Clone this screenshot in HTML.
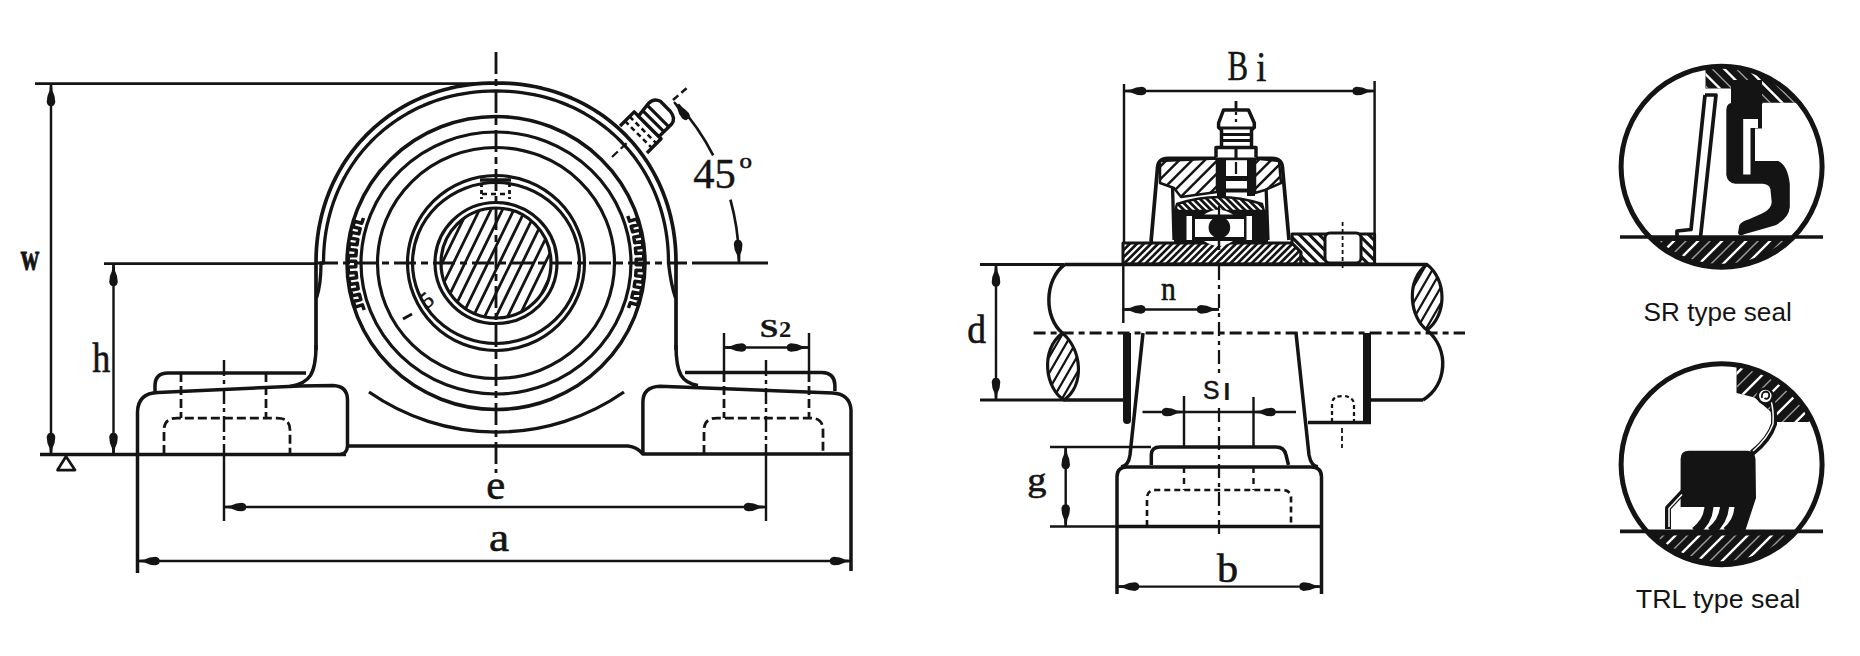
<!DOCTYPE html>
<html><head><meta charset="utf-8"><style>
html,body{margin:0;padding:0;background:#fff;overflow:hidden;width:1860px;height:656px;}
svg{display:block;}
</style></head><body>
<svg width="1860" height="656" viewBox="0 0 1860 656">
<rect width="1860" height="656" fill="#fff"/>
<line x1="35" y1="83.5" x2="496" y2="83.5" stroke="#141414" stroke-width="2.75" stroke-linecap="butt"/>
<line x1="51" y1="84" x2="51" y2="455" stroke="#141414" stroke-width="2.45" stroke-linecap="butt"/>
<path d="M0,-1 L7,-1.6 Q12,-4.3 18,-4.3 Q22,-3.44 22,-1.2 L22,1.2 Q22,3.44 18,4.3 Q12,4.3 7,1.6 L0,1 Z" fill="#141414" transform="translate(51,84) rotate(90)"/>
<path d="M0,-1 L7,-1.6 Q12,-4.3 18,-4.3 Q22,-3.44 22,-1.2 L22,1.2 Q22,3.44 18,4.3 Q12,4.3 7,1.6 L0,1 Z" fill="#141414" transform="translate(51,455) rotate(-90)"/>
<text x="0" y="0" font-family="Liberation Serif" font-size="37.23" font-weight="bold" fill="#141414" stroke="#141414" stroke-width="0.9" transform="translate(20.70,270.13) scale(0.687,1)">w</text>
<line x1="104" y1="263.5" x2="316" y2="263.5" stroke="#141414" stroke-width="2.75" stroke-linecap="butt"/>
<line x1="113.5" y1="264" x2="113.5" y2="455" stroke="#141414" stroke-width="2.45" stroke-linecap="butt"/>
<path d="M0,-1 L7,-1.6 Q12,-4.3 18,-4.3 Q22,-3.44 22,-1.2 L22,1.2 Q22,3.44 18,4.3 Q12,4.3 7,1.6 L0,1 Z" fill="#141414" transform="translate(113.5,264) rotate(90)"/>
<path d="M0,-1 L7,-1.6 Q12,-4.3 18,-4.3 Q22,-3.44 22,-1.2 L22,1.2 Q22,3.44 18,4.3 Q12,4.3 7,1.6 L0,1 Z" fill="#141414" transform="translate(113.5,455) rotate(-90)"/>
<text x="0" y="0" font-family="Liberation Serif" font-size="42.45" font-weight="normal" fill="#141414" stroke="#141414" stroke-width="0.6" transform="translate(92.34,371.50) scale(0.848,1)">h</text>
<line x1="40" y1="454.5" x2="346" y2="454.5" stroke="#141414" stroke-width="3.5" stroke-linecap="butt"/>
<path d="M57.5,470 L75,470 L66,456.5 Z" fill="none" stroke="#141414" stroke-width="2.75" stroke-linejoin="round" />
<line x1="316" y1="263" x2="687" y2="263" stroke="#141414" stroke-width="3.1" stroke-linecap="butt" stroke-dasharray="22 5 7 5"/>
<line x1="692" y1="263" x2="768" y2="263" stroke="#141414" stroke-width="2.85" stroke-linecap="butt"/>
<line x1="496" y1="52" x2="496" y2="473" stroke="#141414" stroke-width="2.85" stroke-linecap="butt" stroke-dasharray="22 5 7 5"/>
<path d="M316,350 L316,263 L316.00,263.00 L316.11,255.96 L316.42,249.26 L316.95,242.69 L317.69,236.22 L318.64,229.84 L319.80,223.53 L321.17,217.31 L322.74,211.18 L324.52,205.12 L326.50,199.16 L328.68,193.29 L331.06,187.53 L333.63,181.86 L336.40,176.31 L339.36,170.87 L342.50,165.54 L345.82,160.35 L349.33,155.28 L353.01,150.35 L356.86,145.56 L360.88,140.91 L365.07,136.41 L369.41,132.07 L373.91,127.88 L378.56,123.86 L383.35,120.01 L388.28,116.33 L393.35,112.82 L398.54,109.50 L403.87,106.36 L409.31,103.40 L414.86,100.63 L420.53,98.06 L426.29,95.68 L432.16,93.50 L438.12,91.52 L444.18,89.74 L450.31,88.17 L456.53,86.80 L462.84,85.64 L469.22,84.69 L475.69,83.95 L482.26,83.42 L488.96,83.11 L496.00,83.00 L503.04,83.11 L509.74,83.42 L516.31,83.95 L522.78,84.69 L529.16,85.64 L535.47,86.80 L541.69,88.17 L547.82,89.74 L553.88,91.52 L559.84,93.50 L565.71,95.68 L571.47,98.06 L577.14,100.63 L582.69,103.40 L588.13,106.36 L593.46,109.50 L598.65,112.82 L603.72,116.33 L608.65,120.01 L613.44,123.86 L618.09,127.88 L622.59,132.07 L626.93,136.41 L631.12,140.91 L635.14,145.56 L638.99,150.35 L642.67,155.28 L646.18,160.35 L649.50,165.54 L652.64,170.87 L655.60,176.31 L658.37,181.86 L660.94,187.53 L663.32,193.29 L665.50,199.16 L667.48,205.12 L669.26,211.18 L670.83,217.31 L672.20,223.53 L673.36,229.84 L674.31,236.22 L675.05,242.69 L675.58,249.26 L675.89,255.96 L676.00,263.00 L676,350" fill="none" stroke="#141414" stroke-width="3.7" stroke-linejoin="round" />
<path d="M316.5,298 Q321,285 321,263 L323.50,263.00 L323.60,256.28 L323.91,249.87 L324.41,243.59 L325.12,237.41 L326.03,231.31 L327.14,225.29 L328.45,219.34 L329.96,213.48 L331.66,207.70 L333.56,202.00 L335.65,196.39 L337.93,190.88 L340.40,185.47 L343.05,180.16 L345.88,174.96 L348.89,169.88 L352.08,164.91 L355.44,160.07 L358.97,155.35 L362.66,150.78 L366.51,146.34 L370.52,142.04 L374.69,137.89 L379.00,133.89 L383.45,130.05 L388.04,126.37 L392.77,122.85 L397.62,119.50 L402.60,116.32 L407.70,113.32 L412.92,110.49 L418.24,107.85 L423.67,105.39 L429.20,103.12 L434.82,101.03 L440.54,99.14 L446.33,97.44 L452.22,95.94 L458.18,94.63 L464.22,93.53 L470.34,92.62 L476.54,91.91 L482.83,91.40 L489.26,91.10 L496.00,91.00 L502.74,91.10 L509.17,91.40 L515.46,91.91 L521.66,92.62 L527.78,93.53 L533.82,94.63 L539.78,95.94 L545.67,97.44 L551.46,99.14 L557.18,101.03 L562.80,103.12 L568.33,105.39 L573.76,107.85 L579.08,110.49 L584.30,113.32 L589.40,116.32 L594.38,119.50 L599.23,122.85 L603.96,126.37 L608.55,130.05 L613.00,133.89 L617.31,137.89 L621.48,142.04 L625.49,146.34 L629.34,150.78 L633.03,155.35 L636.56,160.07 L639.92,164.91 L643.11,169.88 L646.12,174.96 L648.95,180.16 L651.60,185.47 L654.07,190.88 L656.35,196.39 L658.44,202.00 L660.34,207.70 L662.04,213.48 L663.55,219.34 L664.86,225.29 L665.97,231.31 L666.88,237.41 L667.59,243.59 L668.09,249.87 L668.40,256.28 L668.50,263.00 Q671,285 675.5,298" fill="none" stroke="#141414" stroke-width="3.3" stroke-linejoin="round" />
<ellipse cx="496" cy="263" rx="149" ry="146.5" fill="none" stroke="#141414" stroke-width="3.6"/>
<ellipse cx="496" cy="263" rx="135" ry="131" fill="none" stroke="#141414" stroke-width="3.2"/>
<ellipse cx="496" cy="263" rx="118.5" ry="115.5" fill="none" stroke="#141414" stroke-width="3.2"/>
<ellipse cx="496" cy="263" rx="88.5" ry="87.5" fill="none" stroke="#141414" stroke-width="3.2"/>
<ellipse cx="496" cy="263" rx="83.5" ry="80.5" fill="none" stroke="#141414" stroke-width="3.2"/>
<ellipse cx="496" cy="263" rx="61" ry="60.5" fill="none" stroke="#141414" stroke-width="3.2"/>
<ellipse cx="496" cy="263" rx="55" ry="55" fill="none" stroke="#141414" stroke-width="3.2"/>
<path d="M369,392 A223,223 0 0 0 624,392" fill="none" stroke="#141414" stroke-width="3.3" stroke-linejoin="round" />
<path d="M316,345 C316,374 310,383 290,386.5" fill="none" stroke="#141414" stroke-width="3.5" stroke-linejoin="round" />
<path d="M306,373 L168,373 Q155,373 155,386 L155,392" fill="none" stroke="#141414" stroke-width="3.5" stroke-linejoin="round" />
<path d="M137.5,573 L137.5,412 Q138,393 158,392.5 L300,386 L333,385.5 Q347.5,386 347.5,400 L347.5,446 Q347,454 340,454.5" fill="none" stroke="#141414" stroke-width="3.5" stroke-linejoin="round" />
<path d="M347.5,446 Q350,446 356,446 L628,446 Q637,447 643,454" fill="none" stroke="#141414" stroke-width="3.5" stroke-linejoin="round" />
<path d="M676,345 C676,374 682,383 698,385.5" fill="none" stroke="#141414" stroke-width="3.5" stroke-linejoin="round" />
<path d="M685,372.6 L822,372.6 Q834.5,373 834.9,385 L834.9,391" fill="none" stroke="#141414" stroke-width="3.5" stroke-linejoin="round" />
<path d="M851,571 L851,410 Q850,394 832.6,393 L660,386.3 Q643,387 642.9,402 L642.9,454 L851,454" fill="none" stroke="#141414" stroke-width="3.5" stroke-linejoin="round" />
<path d="M181,373 L181,418 M266,373 L266,418" fill="none" stroke="#141414" stroke-width="2.75" stroke-dasharray="9 4" stroke-linejoin="round" />
<path d="M164,454 L164,430 Q164,418 177,418 L277,418 Q290,418 290,430 L290,454" fill="none" stroke="#141414" stroke-width="2.75" stroke-dasharray="9 4" stroke-linejoin="round" />
<line x1="224" y1="360" x2="224" y2="455" stroke="#141414" stroke-width="2.45" stroke-linecap="butt" stroke-dasharray="16 4 4 4"/>
<line x1="224" y1="455" x2="224" y2="521" stroke="#141414" stroke-width="2.45" stroke-linecap="butt"/>
<path d="M724,373 L724,418 M809,373 L809,418" fill="none" stroke="#141414" stroke-width="2.75" stroke-dasharray="9 4" stroke-linejoin="round" />
<path d="M704,454 L704,430 Q704,418 717,418 L810,418 Q823,418 823,430 L823,454" fill="none" stroke="#141414" stroke-width="2.75" stroke-dasharray="9 4" stroke-linejoin="round" />
<line x1="766" y1="360" x2="766" y2="455" stroke="#141414" stroke-width="2.45" stroke-linecap="butt" stroke-dasharray="16 4 4 4"/>
<line x1="766" y1="455" x2="766" y2="521" stroke="#141414" stroke-width="2.45" stroke-linecap="butt"/>
<line x1="724" y1="333" x2="809" y2="333" stroke="#141414" stroke-width="0.0" stroke-linecap="butt"/>
<line x1="724" y1="333" x2="724" y2="373" stroke="#141414" stroke-width="2.45" stroke-linecap="butt"/>
<line x1="809" y1="333" x2="809" y2="373" stroke="#141414" stroke-width="2.45" stroke-linecap="butt"/>
<line x1="724" y1="347.5" x2="809" y2="347.5" stroke="#141414" stroke-width="2.45" stroke-linecap="butt"/>
<path d="M0,-1 L7,-1.6 Q12,-4.3 18,-4.3 Q22,-3.44 22,-1.2 L22,1.2 Q22,3.44 18,4.3 Q12,4.3 7,1.6 L0,1 Z" fill="#141414" transform="translate(724,347.5) rotate(0)"/>
<path d="M0,-1 L7,-1.6 Q12,-4.3 18,-4.3 Q22,-3.44 22,-1.2 L22,1.2 Q22,3.44 18,4.3 Q12,4.3 7,1.6 L0,1 Z" fill="#141414" transform="translate(809,347.5) rotate(180)"/>
<text x="0" y="0" font-family="Liberation Serif" font-size="25.82" font-weight="bold" fill="#141414" stroke="#141414" stroke-width="0.3" transform="translate(759.87,336.54) scale(1.288,1)">S</text>
<text x="0" y="0" font-family="Liberation Serif" font-size="22.42" font-weight="bold" fill="#141414" transform="translate(779.02,336.80) scale(1.094,1)">2</text>
<line x1="224" y1="507" x2="766" y2="507" stroke="#141414" stroke-width="2.45" stroke-linecap="butt"/>
<path d="M0,-1 L7,-1.6 Q12,-4.3 18,-4.3 Q22,-3.44 22,-1.2 L22,1.2 Q22,3.44 18,4.3 Q12,4.3 7,1.6 L0,1 Z" fill="#141414" transform="translate(224,507) rotate(0)"/>
<path d="M0,-1 L7,-1.6 Q12,-4.3 18,-4.3 Q22,-3.44 22,-1.2 L22,1.2 Q22,3.44 18,4.3 Q12,4.3 7,1.6 L0,1 Z" fill="#141414" transform="translate(766,507) rotate(180)"/>
<text x="0" y="0" font-family="Liberation Serif" font-size="41.46" font-weight="normal" fill="#141414" stroke="#141414" stroke-width="0.6" transform="translate(486.19,499.09) scale(1.030,1)">e</text>
<line x1="137.5" y1="561" x2="852" y2="561" stroke="#141414" stroke-width="2.45" stroke-linecap="butt"/>
<path d="M0,-1 L7,-1.6 Q12,-4.3 18,-4.3 Q22,-3.44 22,-1.2 L22,1.2 Q22,3.44 18,4.3 Q12,4.3 7,1.6 L0,1 Z" fill="#141414" transform="translate(137.5,561) rotate(0)"/>
<path d="M0,-1 L7,-1.6 Q12,-4.3 18,-4.3 Q22,-3.44 22,-1.2 L22,1.2 Q22,3.44 18,4.3 Q12,4.3 7,1.6 L0,1 Z" fill="#141414" transform="translate(852,561) rotate(180)"/>
<text x="0" y="0" font-family="Liberation Serif" font-size="40.00" font-weight="normal" fill="#141414" stroke="#141414" stroke-width="0.6" transform="translate(489.01,550.60) scale(1.133,1)">a</text>
<line x1="612" y1="157" x2="630" y2="140" stroke="#141414" stroke-width="2.25" stroke-linecap="butt" stroke-dasharray="8 4"/>
<line x1="673" y1="100" x2="688" y2="87" stroke="#141414" stroke-width="2.45" stroke-linecap="butt" stroke-dasharray="7 4"/>
<path d="M678.1,104.4 A237,237 0 0 1 713.2,155.4" fill="none" stroke="#141414" stroke-width="2.65" stroke-linejoin="round" />
<path d="M730.4,199.7 A237,237 0 0 1 739.0,263.0" fill="none" stroke="#141414" stroke-width="2.65" stroke-linejoin="round" />
<path d="M0,-1 L7,-1.6 Q12,-4.3 18,-4.3 Q22,-3.44 22,-1.2 L22,1.2 Q22,3.44 18,4.3 Q12,4.3 7,1.6 L0,1 Z" fill="#141414" transform="translate(674,102) rotate(50)"/>
<path d="M0,-1 L7,-1.6 Q12,-4.3 18,-4.3 Q22,-3.44 22,-1.2 L22,1.2 Q22,3.44 18,4.3 Q12,4.3 7,1.6 L0,1 Z" fill="#141414" transform="translate(739,262) rotate(-93)"/>
<text x="0" y="0" font-family="Liberation Serif" font-size="41.34" font-weight="normal" fill="#141414" stroke="#141414" stroke-width="0.4" transform="translate(693.15,188.09) scale(1.029,1)">45</text>
<text x="0" y="0" font-family="Liberation Serif" font-size="20.83" font-weight="normal" fill="#141414" stroke="#141414" stroke-width="0.5" transform="translate(739.50,168.29) scale(1.200,1)">o</text>
<g transform="translate(633.5,139.5) rotate(-45)"><path d="M0,-19 L20,-19 L20,19 L0,19" fill="#fff" stroke="#141414" stroke-width="3.4" stroke-linejoin="round"/><path d="M20,-13 L36,-15 Q44,-15 46,-8 L46,6 Q45,15 38,16 L20,16 Z" fill="#fff" stroke="#141414" stroke-width="3.4" stroke-linejoin="round"/><path d="M27,-14 L27,16 M34,-15 L34,16" stroke="#141414" stroke-width="3.2"/><path d="M7,-19 L7,19 M13.5,-19 L13.5,19" stroke="#141414" stroke-width="2.6" stroke-dasharray="5 3.5"/></g>
<clipPath id="shaft"><circle cx="496" cy="263" r="54"/></clipPath>
<path d="M380.3,295.6 L450.4,151.8 M389.6,300.1 L459.7,156.3 M398.8,304.6 L469.0,160.8 M408.1,309.1 L478.2,165.3 M417.3,313.6 L487.5,169.8 M426.6,318.2 L496.7,174.4 M435.9,322.7 L506.0,178.9 M445.1,327.2 L515.3,183.4 M454.4,331.7 L524.5,187.9 M463.6,336.2 L533.8,192.4 M472.9,340.7 L543.0,196.9 M482.1,345.2 L552.3,201.4 M491.4,349.8 L561.5,206.0 M500.7,354.3 L570.8,210.5 M509.9,358.8 L580.1,215.0 M519.2,363.3 L589.3,219.5 M528.4,367.8 L598.6,224.0 M537.7,372.3 L607.8,228.5 M546.9,376.9 L617.1,233.0" stroke="#141414" stroke-width="2.8" clip-path="url(#shaft)"/>
<path d="M364.2,310.0 L362.4,304.8 L355.1,307.1 L353.4,301.5 L360.8,299.5 L359.4,294.2 L351.9,295.9 L350.7,290.2 L358.2,288.8 L357.3,283.3 L349.7,284.4 L349.0,278.7 L356.6,277.8 L356.1,272.4 L348.4,272.9 L348.2,267.0 L355.8,266.8 L355.8,261.3 L348.1,261.2 L348.3,255.4 L355.9,255.8 L356.3,250.3 L348.7,249.6 L349.4,243.8 L357.0,244.8 L357.8,239.4 L350.3,238.1 L351.4,232.4 L358.9,233.9 L360.2,228.6 L352.8,226.7 L354.4,221.1 L361.7,223.3 L363.5,218.0" fill="none" stroke="#141414" stroke-width="3.5" stroke-linejoin="round" />
<path d="M627.8,216.0 L629.6,221.2 L636.9,218.9 L638.6,224.5 L631.2,226.5 L632.6,231.8 L640.1,230.1 L641.3,235.8 L633.8,237.2 L634.7,242.7 L642.3,241.6 L643.0,247.3 L635.4,248.2 L635.9,253.6 L643.6,253.1 L643.8,259.0 L636.2,259.2 L636.2,264.7 L643.9,264.8 L643.7,270.6 L636.1,270.2 L635.7,275.7 L643.3,276.4 L642.6,282.2 L635.0,281.2 L634.2,286.6 L641.7,287.9 L640.6,293.6 L633.1,292.1 L631.8,297.4 L639.2,299.3 L637.6,304.9 L630.3,302.7 L628.5,308.0" fill="none" stroke="#141414" stroke-width="3.5" stroke-linejoin="round" />
<line x1="480" y1="180" x2="511" y2="180" stroke="#141414" stroke-width="3.5" stroke-linecap="butt"/>
<path d="M481.5,183 L481.5,199 M509.5,183 L509.5,199" fill="none" stroke="#141414" stroke-width="2.85" stroke-dasharray="4 3" stroke-linejoin="round" />
<line x1="482" y1="194" x2="509" y2="194" stroke="#141414" stroke-width="2.65" stroke-linecap="butt" stroke-dasharray="5 4"/>
<line x1="403" y1="319" x2="412" y2="314" stroke="#141414" stroke-width="2.85" stroke-linecap="butt"/>
<text x="0" y="0" font-family="Liberation Serif" font-size="22" fill="#141414" stroke="#141414" stroke-width="0.6" transform="translate(427,309) rotate(-40)">5</text>
<line x1="1124" y1="84" x2="1124" y2="243" stroke="#141414" stroke-width="2.45" stroke-linecap="butt"/>
<line x1="1374.6" y1="81" x2="1374.6" y2="234" stroke="#141414" stroke-width="2.45" stroke-linecap="butt"/>
<line x1="1124" y1="91" x2="1374.6" y2="91" stroke="#141414" stroke-width="2.45" stroke-linecap="butt"/>
<path d="M0,-1 L7,-1.6 Q12,-4.3 18,-4.3 Q22,-3.44 22,-1.2 L22,1.2 Q22,3.44 18,4.3 Q12,4.3 7,1.6 L0,1 Z" fill="#141414" transform="translate(1124,91) rotate(0)"/>
<path d="M0,-1 L7,-1.6 Q12,-4.3 18,-4.3 Q22,-3.44 22,-1.2 L22,1.2 Q22,3.44 18,4.3 Q12,4.3 7,1.6 L0,1 Z" fill="#141414" transform="translate(1374.6,91) rotate(180)"/>
<text x="0" y="0" font-family="Liberation Serif" font-size="42.58" font-weight="normal" fill="#141414" stroke="#141414" stroke-width="0.5" transform="translate(1227.47,80.29) scale(0.725,1)">B</text>
<text x="0" y="0" font-family="Liberation Serif" font-size="41.67" font-weight="normal" fill="#141414" stroke="#141414" stroke-width="0.5" transform="translate(1256.27,80.50) scale(0.880,1)">i</text>
<path d="M1151,242 L1157.5,168 Q1158,158.5 1168,158.3 L1272,158.3 Q1282,158.5 1282.5,168 L1289,240" fill="none" stroke="#141414" stroke-width="3.7" stroke-linejoin="round" />
<line x1="1172.5" y1="185" x2="1174" y2="240" stroke="#141414" stroke-width="3.3" stroke-linecap="butt"/>
<line x1="1266" y1="185" x2="1268" y2="240" stroke="#141414" stroke-width="3.3" stroke-linecap="butt"/>
<clipPath id="c1"><path d="M1160,161 L1217,158.5 L1217,192 L1181,197 L1174,188 L1160,183 Z"/></clipPath>
<path d="M1160,161 L1217,158.5 L1217,192 L1181,197 L1174,188 L1160,183 Z" fill="#fff"/>
<path d="M1126.3,175.0 L1185.0,116.3 M1132.7,181.4 L1191.4,122.7 M1139.0,187.8 L1197.8,129.0 M1145.4,194.1 L1204.1,135.4 M1151.8,200.5 L1210.5,141.8 M1158.1,206.9 L1216.9,148.1 M1164.5,213.2 L1223.2,154.5 M1170.9,219.6 L1229.6,160.9 M1177.2,226.0 L1236.0,167.2 M1183.6,232.3 L1242.3,173.6 M1190.0,238.7 L1248.7,180.0" stroke="#141414" stroke-width="2.45" clip-path="url(#c1)"/>
<path d="M1160,161 L1217,158.5 L1217,192 L1181,197 L1174,188 L1160,183 Z" fill="none" stroke="#141414" stroke-width="2.5" stroke-linejoin="round"/>
<clipPath id="c2"><path d="M1255,158.5 L1279,161 L1281,183 L1265,190 L1255,193 Z"/></clipPath>
<path d="M1255,158.5 L1279,161 L1281,183 L1265,190 L1255,193 Z" fill="#fff"/>
<path d="M1223.0,170.1 L1263.1,130.0 M1229.4,176.4 L1269.4,136.4 M1235.8,182.8 L1275.8,142.8 M1242.1,189.2 L1282.2,149.1 M1248.5,195.5 L1288.5,155.5 M1254.8,201.9 L1294.9,161.8 M1261.2,208.2 L1301.2,168.2 M1267.6,214.6 L1307.6,174.6 M1273.9,221.0 L1314.0,180.9" stroke="#141414" stroke-width="2.45" clip-path="url(#c2)"/>
<path d="M1255,158.5 L1279,161 L1281,183 L1265,190 L1255,193 Z" fill="none" stroke="#141414" stroke-width="2.5" stroke-linejoin="round"/>
<rect x="1217" y="156" width="9" height="40" fill="#141414"/>
<rect x="1247" y="156" width="8" height="40" fill="#141414"/>
<rect x="1226" y="176" width="21" height="5" fill="#141414"/>
<rect x="1226" y="188.5" width="21" height="4" fill="#141414"/>
<line x1="1236" y1="162" x2="1236" y2="174" stroke="#141414" stroke-width="2.25" stroke-linecap="butt"/>
<line x1="1236" y1="101" x2="1236" y2="110" stroke="#141414" stroke-width="2.85" stroke-linecap="butt"/>
<path d="M1221.5,146 L1221.5,130 L1218.6,127.5 L1218.6,123 L1223.5,110 L1248.5,110 L1254.3,123 L1254.3,127.5 L1251.5,130 L1251.5,146" fill="#fff" stroke="#141414" stroke-width="3.5" stroke-linejoin="round" />
<path d="M1219,128 L1254,128 M1221.5,134.5 L1251.5,134.5 M1221.5,140.5 L1251.5,140.5" fill="none" stroke="#141414" stroke-width="3.1" stroke-linejoin="round" />
<path d="M1216,157.5 L1216,147.5 L1256,147.5 L1256,157.5" fill="#fff" stroke="#141414" stroke-width="3.5" stroke-linejoin="round" />
<line x1="1236" y1="112" x2="1236" y2="125" stroke="#141414" stroke-width="2.25" stroke-linecap="butt" stroke-dasharray="3 4"/>
<line x1="1236" y1="147.5" x2="1236" y2="158" stroke="#141414" stroke-width="3.1" stroke-linecap="butt"/>
<clipPath id="c3"><path d="M1175,211 L1177,204 Q1219,190 1262,204 L1264,211 Z"/></clipPath>
<path d="M1175,211 L1177,204 Q1219,190 1262,204 L1264,211 Z" fill="#141414"/>
<path d="M1220.8,128.1 L1291.9,199.2 M1217.4,131.5 L1288.5,202.6 M1214.0,134.9 L1285.1,206.0 M1210.6,138.3 L1281.7,209.4 M1207.2,141.7 L1278.3,212.8 M1203.8,145.1 L1274.9,216.2 M1200.4,148.5 L1271.5,219.6 M1197.0,151.9 L1268.1,223.0 M1193.6,155.3 L1264.7,226.4 M1190.2,158.7 L1261.3,229.8 M1186.8,162.1 L1257.9,233.2 M1183.5,165.5 L1254.5,236.5 M1180.1,168.8 L1251.2,239.9 M1176.7,172.2 L1247.8,243.3 M1173.3,175.6 L1244.4,246.7 M1169.9,179.0 L1241.0,250.1 M1166.5,182.4 L1237.6,253.5 M1163.1,185.8 L1234.2,256.9 M1159.7,189.2 L1230.8,260.3 M1156.3,192.6 L1227.4,263.7 M1152.9,196.0 L1224.0,267.1 M1149.5,199.4 L1220.6,270.5 M1146.1,202.8 L1217.2,273.9" stroke="#fff" stroke-width="2.0" clip-path="url(#c3)"/>
<path d="M1175,211 L1177,204 Q1219,190 1262,204 L1264,211 Z" fill="none" stroke="#141414" stroke-width="2.5" stroke-linejoin="round"/>
<path d="M1174,210 L1268,210 L1268,243 L1174,243 Z" fill="#141414"/>
<rect x="1195" y="219" width="49" height="18" fill="#fff"/>
<path d="M1204,214.5 Q1218.5,205 1233,214.5 Z" fill="#fff"/>
<circle cx="1219.4" cy="227.4" r="10.8" fill="#141414"/>
<rect x="1186.5" y="216" width="5.5" height="24" fill="#fff"/>
<rect x="1246.5" y="216" width="5.5" height="24" fill="#fff"/>
<line x1="1219" y1="206" x2="1219" y2="248" stroke="#141414" stroke-width="2.25" stroke-linecap="butt"/>
<clipPath id="c4"><path d="M1123,243 L1292,243 L1301,252 L1301,264 L1123,264 Z"/></clipPath>
<path d="M1123,243 L1292,243 L1301,252 L1301,264 L1123,264 Z" fill="#141414"/>
<path d="M1075.4,252.2 L1215.2,112.4 M1078.9,255.7 L1218.7,115.9 M1082.4,259.3 L1222.3,119.4 M1086.0,262.8 L1225.8,123.0 M1089.5,266.3 L1229.3,126.5 M1093.1,269.9 L1232.9,130.1 M1096.6,273.4 L1236.4,133.6 M1100.1,277.0 L1240.0,137.1 M1103.7,280.5 L1243.5,140.7 M1107.2,284.0 L1247.0,144.2 M1110.7,287.6 L1250.6,147.7 M1114.3,291.1 L1254.1,151.3 M1117.8,294.6 L1257.6,154.8 M1121.3,298.2 L1261.2,158.3 M1124.9,301.7 L1264.7,161.9 M1128.4,305.2 L1268.2,165.4 M1131.9,308.8 L1271.8,168.9 M1135.5,312.3 L1275.3,172.5 M1139.0,315.8 L1278.8,176.0 M1142.5,319.4 L1282.4,179.5 M1146.1,322.9 L1285.9,183.1 M1149.6,326.5 L1289.5,186.6 M1153.2,330.0 L1293.0,190.2 M1156.7,333.5 L1296.5,193.7 M1160.2,337.1 L1300.1,197.2 M1163.8,340.6 L1303.6,200.8 M1167.3,344.1 L1307.1,204.3 M1170.8,347.7 L1310.7,207.8 M1174.4,351.2 L1314.2,211.4 M1177.9,354.7 L1317.7,214.9 M1181.4,358.3 L1321.3,218.4 M1185.0,361.8 L1324.8,222.0 M1188.5,365.3 L1328.3,225.5 M1192.0,368.9 L1331.9,229.0 M1195.6,372.4 L1335.4,232.6 M1199.1,375.9 L1338.9,236.1 M1202.7,379.5 L1342.5,239.7 M1206.2,383.0 L1346.0,243.2 M1209.7,386.6 L1349.6,246.7 M1213.3,390.1 L1353.1,250.3 M1216.8,393.6 L1356.6,253.8" stroke="#fff" stroke-width="2.3" clip-path="url(#c4)"/>
<path d="M1123,243 L1292,243 L1301,252 L1301,264 L1123,264 Z" fill="none" stroke="#141414" stroke-width="3" stroke-linejoin="round"/>
<path d="M1204,241 Q1218.5,251 1233,241 Z" fill="#fff"/>
<line x1="1219" y1="240" x2="1219" y2="250" stroke="#141414" stroke-width="2.45" stroke-linecap="butt"/>
<clipPath id="c5"><path d="M1292,234 L1374.6,234 L1374.6,264 L1301,264 L1301,252 L1292,243 Z"/></clipPath>
<path d="M1292,234 L1374.6,234 L1374.6,264 L1301,264 L1301,252 L1292,243 Z" fill="#fff"/>
<path d="M1336.7,173.0 L1407.5,243.8 M1331.8,178.0 L1402.5,248.7 M1326.8,182.9 L1397.6,253.7 M1321.9,187.9 L1392.6,258.6 M1316.9,192.8 L1387.7,263.6 M1312.0,197.8 L1382.7,268.5 M1307.0,202.7 L1377.8,273.5 M1302.1,207.7 L1372.8,278.4 M1297.1,212.6 L1367.9,283.4 M1292.2,217.6 L1362.9,288.3 M1287.2,222.5 L1358.0,293.3 M1282.3,227.5 L1353.0,298.2 M1277.3,232.4 L1348.1,303.2 M1272.4,237.4 L1343.1,308.1 M1267.4,242.3 L1338.2,313.1 M1262.5,247.3 L1333.2,318.0 M1257.5,252.2 L1328.3,323.0" stroke="#141414" stroke-width="3.1" clip-path="url(#c5)"/>
<path d="M1292,234 L1374.6,234 L1374.6,264 L1301,264 L1301,252 L1292,243 Z" fill="none" stroke="#141414" stroke-width="3" stroke-linejoin="round"/>
<rect x="1325" y="233" width="36" height="30" rx="5" fill="#fff" stroke="#141414" stroke-width="3"/>
<line x1="1342.6" y1="222" x2="1342.6" y2="270" stroke="#141414" stroke-width="1.8" stroke-linecap="butt" stroke-dasharray="4 3"/>
<line x1="980" y1="264.5" x2="1064.6" y2="264.5" stroke="#141414" stroke-width="2.85" stroke-linecap="butt"/>
<line x1="1064.6" y1="264.5" x2="1427" y2="264.5" stroke="#141414" stroke-width="3.7" stroke-linecap="butt"/>
<line x1="980" y1="400" x2="1064" y2="400" stroke="#141414" stroke-width="2.85" stroke-linecap="butt"/>
<line x1="1064" y1="400" x2="1123" y2="400" stroke="#141414" stroke-width="3.5" stroke-linecap="butt"/>
<line x1="1371" y1="400" x2="1423" y2="400" stroke="#141414" stroke-width="3.5" stroke-linecap="butt"/>
<path d="M1064.6,264.5 C1044,280 1044,318 1062.4,333" fill="none" stroke="#141414" stroke-width="3.5" stroke-linejoin="round" />
<clipPath id="c6"><path d="M1062.4,333 C1040,350 1045,388 1064,400 C1085,385 1082,350 1062.4,333 Z"/></clipPath>
<path d="M1062.4,333 C1040,350 1045,388 1064,400 C1085,385 1082,350 1062.4,333 Z" fill="#fff"/>
<path d="M998.7,380.5 L1043.2,303.5 M1005.6,384.5 L1050.1,307.5 M1012.6,388.5 L1057.0,311.5 M1019.5,392.5 L1063.9,315.5 M1026.4,396.5 L1070.9,319.5 M1033.3,400.5 L1077.8,323.5 M1040.3,404.5 L1084.7,327.5 M1047.2,408.5 L1091.7,331.5 M1054.1,412.5 L1098.6,335.5 M1061.1,416.5 L1105.5,339.5 M1068.0,420.5 L1112.4,343.5 M1074.9,424.5 L1119.4,347.5 M1081.8,428.5 L1126.3,351.5" stroke="#141414" stroke-width="2.25" clip-path="url(#c6)"/>
<path d="M1062.4,333 C1040,350 1045,388 1064,400 C1085,385 1082,350 1062.4,333 Z" fill="none" stroke="#141414" stroke-width="3.2" stroke-linejoin="round"/>
<clipPath id="c7"><path d="M1427,264.5 C1405,280 1410,318 1427,330 C1447,315 1447,280 1427,264.5 Z"/></clipPath>
<path d="M1427,264.5 C1405,280 1410,318 1427,330 C1447,315 1447,280 1427,264.5 Z" fill="#fff"/>
<path d="M1363.0,310.1 L1405.8,235.9 M1370.0,314.1 L1412.8,239.9 M1376.9,318.1 L1419.7,243.9 M1383.8,322.1 L1426.6,247.9 M1390.7,326.1 L1433.6,251.9 M1397.7,330.1 L1440.5,255.9 M1404.6,334.1 L1447.4,259.9 M1411.5,338.1 L1454.3,263.9 M1418.4,342.1 L1461.3,267.9 M1425.4,346.1 L1468.2,271.9 M1432.3,350.1 L1475.1,275.9 M1439.2,354.1 L1482.0,279.9 M1446.2,358.1 L1489.0,283.9" stroke="#141414" stroke-width="2.25" clip-path="url(#c7)"/>
<path d="M1427,264.5 C1405,280 1410,318 1427,330 C1447,315 1447,280 1427,264.5 Z" fill="none" stroke="#141414" stroke-width="3.2" stroke-linejoin="round"/>
<path d="M1427,330 C1450,350 1447,385 1423,400" fill="none" stroke="#141414" stroke-width="3.5" stroke-linejoin="round" />
<line x1="1033.6" y1="333" x2="1465" y2="333" stroke="#141414" stroke-width="2.85" stroke-linecap="butt" stroke-dasharray="12 5 6 5"/>
<line x1="1219" y1="266" x2="1219" y2="377" stroke="#141414" stroke-width="2.25" stroke-linecap="butt" stroke-dasharray="14 5 4 5"/>
<line x1="1219" y1="408" x2="1219" y2="538" stroke="#141414" stroke-width="2.25" stroke-linecap="butt" stroke-dasharray="14 5 4 5"/>
<line x1="996" y1="264.5" x2="996" y2="400" stroke="#141414" stroke-width="2.45" stroke-linecap="butt"/>
<path d="M0,-1 L7,-1.6 Q12,-4.3 18,-4.3 Q22,-3.44 22,-1.2 L22,1.2 Q22,3.44 18,4.3 Q12,4.3 7,1.6 L0,1 Z" fill="#141414" transform="translate(996,264.5) rotate(90)"/>
<path d="M0,-1 L7,-1.6 Q12,-4.3 18,-4.3 Q22,-3.44 22,-1.2 L22,1.2 Q22,3.44 18,4.3 Q12,4.3 7,1.6 L0,1 Z" fill="#141414" transform="translate(996,400) rotate(-90)"/>
<text x="0" y="0" font-family="Liberation Serif" font-size="39.29" font-weight="normal" fill="#141414" stroke="#141414" stroke-width="0.6" transform="translate(967.18,343.11) scale(0.957,1)">d</text>
<line x1="1123.3" y1="264" x2="1123.3" y2="323" stroke="#141414" stroke-width="2.45" stroke-linecap="butt"/>
<line x1="1123.3" y1="309.4" x2="1219" y2="309.4" stroke="#141414" stroke-width="2.45" stroke-linecap="butt"/>
<path d="M0,-1 L7,-1.6 Q12,-4.3 18,-4.3 Q22,-3.44 22,-1.2 L22,1.2 Q22,3.44 18,4.3 Q12,4.3 7,1.6 L0,1 Z" fill="#141414" transform="translate(1123.3,309.4) rotate(0)"/>
<path d="M0,-1 L7,-1.6 Q12,-4.3 18,-4.3 Q22,-3.44 22,-1.2 L22,1.2 Q22,3.44 18,4.3 Q12,4.3 7,1.6 L0,1 Z" fill="#141414" transform="translate(1219,309.4) rotate(180)"/>
<text x="0" y="0" font-family="Liberation Serif" font-size="34.26" font-weight="normal" fill="#141414" stroke="#141414" stroke-width="0.6" transform="translate(1161.11,299.80) scale(0.866,1)">n</text>
<path d="M1123,333 L1131,333 L1131,420 Q1131,424 1127,424 Q1123,424 1123,420 Z" fill="#141414"/>
<path d="M1363,333 L1371,333 L1371,422.5 L1363,422.5 Z" fill="#141414"/>
<path d="M1143,333 L1130,455 Q1128.5,466 1121,467" fill="none" stroke="#141414" stroke-width="3.5" stroke-linejoin="round" />
<path d="M1296,333 L1309,455 Q1311,466 1318,467" fill="none" stroke="#141414" stroke-width="3.5" stroke-linejoin="round" />
<line x1="1308" y1="422.4" x2="1371" y2="422.4" stroke="#141414" stroke-width="3.5" stroke-linecap="butt"/>
<line x1="1142.5" y1="412" x2="1296" y2="412" stroke="#141414" stroke-width="2.45" stroke-linecap="butt"/>
<path d="M0,-1 L7,-1.6 Q12,-4.3 18,-4.3 Q22,-3.44 22,-1.2 L22,1.2 Q22,3.44 18,4.3 Q12,4.3 7,1.6 L0,1 Z" fill="#141414" transform="translate(1184,412) rotate(180)"/>
<path d="M0,-1 L7,-1.6 Q12,-4.3 18,-4.3 Q22,-3.44 22,-1.2 L22,1.2 Q22,3.44 18,4.3 Q12,4.3 7,1.6 L0,1 Z" fill="#141414" transform="translate(1253.5,412) rotate(0)"/>
<line x1="1184" y1="396" x2="1184" y2="447" stroke="#141414" stroke-width="2.45" stroke-linecap="butt"/>
<line x1="1253.5" y1="397" x2="1253.5" y2="447" stroke="#141414" stroke-width="2.45" stroke-linecap="butt"/>
<line x1="1184" y1="467" x2="1184" y2="490" stroke="#141414" stroke-width="2.45" stroke-linecap="butt" stroke-dasharray="6 5"/>
<line x1="1253.5" y1="467" x2="1253.5" y2="490" stroke="#141414" stroke-width="2.45" stroke-linecap="butt" stroke-dasharray="6 5"/>
<text x="0" y="0" font-family="Liberation Sans" font-size="25.77" font-weight="normal" fill="#141414" stroke="#141414" stroke-width="0.5" transform="translate(1203.09,399.04) scale(0.958,1)">S</text>
<text x="0" y="0" font-family="Liberation Sans" font-size="24.49" font-weight="normal" fill="#141414" transform="translate(1221.68,399.70) scale(1.504,1)">I</text>
<path d="M1332,422 L1332,403 Q1333,396 1342,396 Q1352,396 1354,403 L1354,422" fill="none" stroke="#141414" stroke-width="2.25" stroke-dasharray="4 3" stroke-linejoin="round" />
<line x1="1342" y1="428" x2="1342" y2="448" stroke="#141414" stroke-width="1.8" stroke-linecap="butt" stroke-dasharray="5 3"/>
<line x1="1050" y1="447" x2="1151" y2="447" stroke="#141414" stroke-width="2.45" stroke-linecap="butt"/>
<line x1="1050" y1="526.5" x2="1117" y2="526.5" stroke="#141414" stroke-width="2.45" stroke-linecap="butt"/>
<line x1="1065.7" y1="447" x2="1065.7" y2="526.5" stroke="#141414" stroke-width="2.45" stroke-linecap="butt"/>
<path d="M0,-1 L7,-1.6 Q12,-4.3 18,-4.3 Q22,-3.44 22,-1.2 L22,1.2 Q22,3.44 18,4.3 Q12,4.3 7,1.6 L0,1 Z" fill="#141414" transform="translate(1065.7,447) rotate(90)"/>
<path d="M0,-1 L7,-1.6 Q12,-4.3 18,-4.3 Q22,-3.44 22,-1.2 L22,1.2 Q22,3.44 18,4.3 Q12,4.3 7,1.6 L0,1 Z" fill="#141414" transform="translate(1065.7,526.5) rotate(-90)"/>
<text x="0" y="0" font-family="Liberation Serif" font-size="34.07" font-weight="normal" fill="#141414" stroke="#141414" stroke-width="0.6" transform="translate(1027.27,490.88) scale(1.127,1)">g</text>
<path d="M1151.3,465 L1151.3,455 Q1151.3,447 1160,447 L1276,447 Q1284.4,447 1286,455 L1288.5,465" fill="none" stroke="#141414" stroke-width="3.5" stroke-linejoin="round" />
<path d="M1117,594 L1117,477 Q1117,467 1127,467 L1311,467 Q1321.5,467 1321.5,477 L1321.5,594" fill="none" stroke="#141414" stroke-width="3.5" stroke-linejoin="round" />
<line x1="1117" y1="526.5" x2="1321.5" y2="526.5" stroke="#141414" stroke-width="3.7" stroke-linecap="butt"/>
<path d="M1147,526 L1147,498 Q1147,490 1156,490 L1282,490 Q1291,490 1291,498 L1291,526" fill="none" stroke="#141414" stroke-width="2.65" stroke-dasharray="6 4" stroke-linejoin="round" />
<line x1="1117" y1="586.6" x2="1321.5" y2="586.6" stroke="#141414" stroke-width="2.45" stroke-linecap="butt"/>
<path d="M0,-1 L7,-1.6 Q12,-4.3 18,-4.3 Q22,-3.44 22,-1.2 L22,1.2 Q22,3.44 18,4.3 Q12,4.3 7,1.6 L0,1 Z" fill="#141414" transform="translate(1117,586.6) rotate(0)"/>
<path d="M0,-1 L7,-1.6 Q12,-4.3 18,-4.3 Q22,-3.44 22,-1.2 L22,1.2 Q22,3.44 18,4.3 Q12,4.3 7,1.6 L0,1 Z" fill="#141414" transform="translate(1321.5,586.6) rotate(180)"/>
<text x="0" y="0" font-family="Liberation Serif" font-size="39.01" font-weight="normal" fill="#141414" stroke="#141414" stroke-width="0.6" transform="translate(1217.00,581.61) scale(1.081,1)">b</text>
<clipPath id="srclip"><circle cx="1721.6" cy="166.8" r="100.5"/></clipPath>
<clipPath id="srbot"><path d="M1600,241 L1840,241 L1840,300 L1600,300 Z"/></clipPath>
<clipPath id="srin"><circle cx="1721.6" cy="166.8" r="97.0"/></clipPath>
<g clip-path="url(#srclip)">
<rect x="1600" y="236" width="240" height="40" fill="#141414"/>
<clipPath id="srtop"><path d="M1705.5,50 L1705.5,88.5 L1731,88.5 L1731,104 L1762.5,104 L1762.5,102.7 L1840,102.7 L1840,50 Z"/></clipPath>
<path d="M1705.5,50 L1705.5,88.5 L1731,88.5 L1731,104 L1762.5,104 L1762.5,102.7 L1840,102.7 L1840,50 Z" fill="#141414"/>
</g>
<g clip-path="url(#srin)">
<path d="M1542.7,252.0 L1717.0,77.7 M1554.8,264.0 L1729.0,89.8 M1566.8,276.0 L1741.0,101.8 M1578.8,288.0 L1753.0,113.8 M1590.8,300.0 L1765.0,125.8 M1602.8,312.1 L1777.1,137.8 M1614.9,324.1 L1789.1,149.9 M1626.9,336.1 L1801.1,161.9 M1638.9,348.1 L1813.1,173.9 M1650.9,360.1 L1825.1,185.9 M1662.9,372.2 L1837.2,197.9 M1675.0,384.2 L1849.2,210.0 M1687.0,396.2 L1861.2,222.0 M1699.0,408.2 L1873.2,234.0 M1711.0,420.2 L1885.2,246.0 M1723.0,432.3 L1897.3,258.0" stroke="#fff" stroke-width="2.4" clip-path="url(#srbot)"/>
<path d="M1548.7,258.0 L1723.0,83.7 M1560.8,270.0 L1735.0,95.8 M1572.8,282.0 L1747.0,107.8 M1584.8,294.0 L1759.0,119.8 M1596.8,306.1 L1771.1,131.8 M1608.8,318.1 L1783.1,143.8 M1620.9,330.1 L1795.1,155.9 M1632.9,342.1 L1807.1,167.9 M1644.9,354.1 L1819.1,179.9 M1656.9,366.2 L1831.2,191.9 M1668.9,378.2 L1843.2,203.9 M1681.0,390.2 L1855.2,216.0 M1693.0,402.2 L1867.2,228.0 M1705.0,414.2 L1879.2,240.0 M1717.0,426.3 L1891.3,252.0" stroke="#9a9a9a" stroke-width="1.44" clip-path="url(#srbot)"/>
</g>
<g clip-path="url(#srclip)">
<path d="M1770.5,-29.2 L1877.7,78.0 M1758.4,-17.2 L1865.7,90.1 M1746.4,-5.2 L1853.7,102.1 M1734.4,6.8 L1841.7,114.1 M1722.4,18.9 L1829.6,126.1 M1710.4,30.9 L1817.6,138.1 M1698.3,42.9 L1805.6,150.2 M1686.3,54.9 L1793.6,162.2 M1674.3,66.9 L1781.6,174.2 M1662.3,79.0 L1769.5,186.2" stroke="#fff" stroke-width="2.4" clip-path="url(#srtop)"/>
<path d="M1764.5,-23.2 L1871.7,84.0 M1752.4,-11.2 L1859.7,96.1 M1740.4,0.8 L1847.7,108.1 M1728.4,12.9 L1835.6,120.1 M1716.4,24.9 L1823.6,132.1 M1704.4,36.9 L1811.6,144.1 M1692.3,48.9 L1799.6,156.2 M1680.3,60.9 L1787.6,168.2 M1668.3,73.0 L1775.5,180.2" stroke="#9a9a9a" stroke-width="1.44" clip-path="url(#srtop)"/>
</g>
<circle cx="1721.6" cy="166.8" r="100.5" fill="none" stroke="#141414" stroke-width="5"/>
<path fill-rule="evenodd" fill="#141414" d="M1731,80 L1762,80 L1762,128.5 L1755,128.5 L1755,161 L1778.2,161 Q1787.5,165 1789.8,183.7 L1789.8,207 Q1789,218 1775.6,225.2 L1757.4,230.4 L1745,234 Q1739,237 1738,233 L1739.3,225.2 Q1742,221 1749.6,219 L1762,213.5 Q1771.7,209 1771.7,201.9 L1770.4,188.9 Q1769,184 1762.6,183.7 L1735.4,183.7 Q1727.6,183 1726.3,175 L1726.3,110 Q1726.5,104 1731,103 Z M1743.2,119 L1758,119 L1758,128 L1750.5,128 L1750.5,174.4 L1743.2,174.4 Z"/>
<path d="M1705,95 L1716,95 L1700.5,237" fill="none" stroke="#141414" stroke-width="3.7" stroke-linejoin="round" />
<path d="M1705,95 L1691,229.5 L1677,231 L1677,237" fill="none" stroke="#141414" stroke-width="3.7" stroke-linejoin="round" />
<line x1="1620" y1="237" x2="1823" y2="237" stroke="#141414" stroke-width="3.7" stroke-linecap="butt"/>
<text x="0" y="0" font-family="Liberation Sans" font-size="26.42" font-weight="normal" fill="#141414" transform="translate(1643.62,320.95) scale(0.989,1)">SR type seal</text>
<clipPath id="trclip"><circle cx="1721.6" cy="464.2" r="100.5"/></clipPath>
<clipPath id="trbot"><path d="M1600,535.5 L1840,535.5 L1840,600 L1600,600 Z"/></clipPath>
<clipPath id="trin"><circle cx="1721.6" cy="464.2" r="97.0"/></clipPath>
<clipPath id="trtop"><path d="M1736.5,350 L1736.5,393 L1754.5,397.5 L1762,404 L1771,412 L1775,422 L1840,422 L1840,350 Z"/></clipPath>
<g clip-path="url(#trclip)">
<rect x="1600" y="530" width="240" height="45" fill="#141414"/>
<path d="M1736.5,350 L1736.5,393 L1754.5,397.5 L1762,404 L1771,412 L1775,422 L1840,422 L1840,350 Z" fill="#141414"/>
</g>
<g clip-path="url(#trin)">
<path d="M1542.5,548.2 L1717.2,373.5 M1554.5,560.2 L1729.2,385.5 M1566.6,572.2 L1741.2,397.6 M1578.6,584.2 L1753.2,409.6 M1590.6,596.3 L1765.3,421.6 M1602.6,608.3 L1777.3,433.6 M1614.6,620.3 L1789.3,445.6 M1626.7,632.3 L1801.3,457.7 M1638.7,644.3 L1813.3,469.7 M1650.7,656.4 L1825.4,481.7 M1662.7,668.4 L1837.4,493.7 M1674.7,680.4 L1849.4,505.7 M1686.8,692.4 L1861.4,517.8 M1698.8,704.4 L1873.4,529.8 M1710.8,716.5 L1885.5,541.8 M1722.8,728.5 L1897.5,553.8" stroke="#fff" stroke-width="2.4" clip-path="url(#trbot)"/>
<path d="M1548.5,554.2 L1723.2,379.5 M1560.6,566.2 L1735.2,391.6 M1572.6,578.2 L1747.2,403.6 M1584.6,590.2 L1759.2,415.6 M1596.6,602.3 L1771.3,427.6 M1608.6,614.3 L1783.3,439.6 M1620.7,626.3 L1795.3,451.7 M1632.7,638.3 L1807.3,463.7 M1644.7,650.3 L1819.3,475.7 M1656.7,662.4 L1831.4,487.7 M1668.7,674.4 L1843.4,499.7 M1680.8,686.4 L1855.4,511.8 M1692.8,698.4 L1867.4,523.8 M1704.8,710.4 L1879.4,535.8 M1716.8,722.5 L1891.5,547.8" stroke="#9a9a9a" stroke-width="1.44" clip-path="url(#trbot)"/>
</g>
<g clip-path="url(#trclip)">
<path d="M1694.4,389.0 L1786.5,296.9 M1707.9,402.4 L1799.9,310.4 M1721.3,415.9 L1813.4,323.8 M1734.8,429.3 L1826.8,337.3 M1748.2,442.7 L1840.2,350.7 M1761.6,456.2 L1853.7,364.1 M1775.1,469.6 L1867.1,377.6 M1788.5,483.1 L1880.6,391.0" stroke="#fff" stroke-width="2.4" clip-path="url(#trtop)"/>
<path d="M1701.2,395.7 L1793.2,303.7 M1714.6,409.2 L1806.7,317.1 M1728.0,422.6 L1820.1,330.5 M1741.5,436.0 L1833.5,344.0 M1754.9,449.5 L1847.0,357.4 M1768.3,462.9 L1860.4,370.8 M1781.8,476.3 L1873.8,384.3" stroke="#9a9a9a" stroke-width="1.44" clip-path="url(#trtop)"/>
</g>
<circle cx="1721.6" cy="464.2" r="100.5" fill="none" stroke="#141414" stroke-width="5"/>
<line x1="1620" y1="531.4" x2="1823" y2="531.4" stroke="#141414" stroke-width="3.7" stroke-linecap="butt"/>
<path d="M1770.5,396 Q1775,410 1774,424 Q1769,440 1752,453" fill="none" stroke="#141414" stroke-width="6"/>
<path d="M1770.5,399 Q1774,410 1773,424 Q1768,438 1753,451" fill="none" stroke="#fff" stroke-width="1.5"/>
<circle cx="1765.3" cy="396" r="7.5" fill="#fff" stroke="#141414" stroke-width="2.6"/>
<path d="M1762,398 Q1761,392 1766,391.5 Q1770,392 1769,397 Q1767,400 1764.5,398" fill="none" stroke="#141414" stroke-width="1.8"/>
<path fill="#141414" d="M1680.6,459 Q1680.6,450.7 1689,450.7 L1747,450.7 Q1755,450.7 1755.5,459 L1756,498 L1745,531.5 L1729,531.5 L1740,507 L1680.6,507 Z"/>
<path d="M1709,505 C1709,518 1702,526 1695,531.5 M1724.5,505 C1724.5,518 1717.5,526 1711,531.5 M1739,505 C1739,518 1733,526 1726.5,531.5" fill="none" stroke="#141414" stroke-width="9"/>
<path d="M1683,492 L1668,508 L1668,529" fill="none" stroke="#141414" stroke-width="6" stroke-linejoin="round"/>
<path d="M1682,494.5 L1669,508.5 L1669,527" fill="none" stroke="#fff" stroke-width="1.5" stroke-linejoin="round"/>
<text x="0" y="0" font-family="Liberation Sans" font-size="26.42" font-weight="normal" fill="#141414" transform="translate(1635.76,608.15) scale(1.016,1)">TRL type seal</text>
</svg></body></html>
